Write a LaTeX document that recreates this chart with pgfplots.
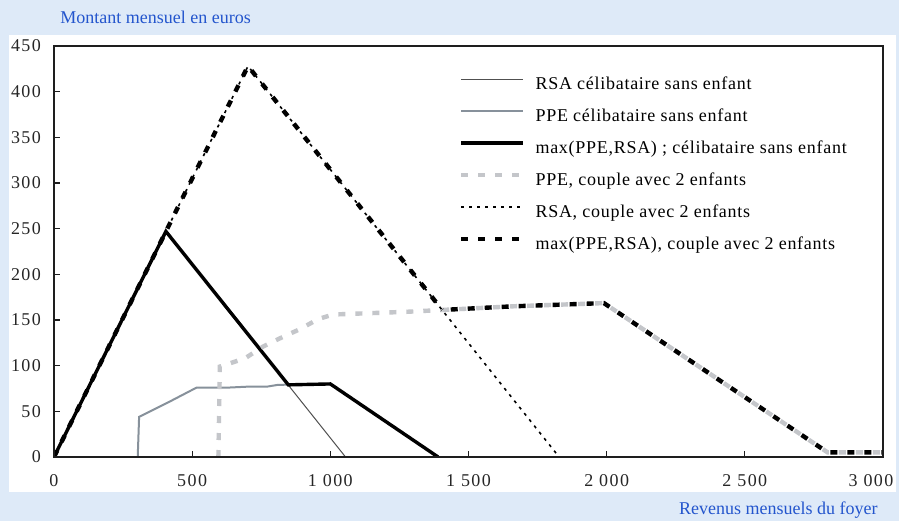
\documentclass[border=0pt]{standalone}
\usepackage{fontspec}
\setmainfont{Liberation Serif}
\newfontfamily\spacedfont[LetterSpace=4]{Liberation Serif}
\newfontfamily\tickfont[LetterSpace=8]{Liberation Serif}
\usepackage{pgfplots}
\pgfplotsset{compat=1.18}
\definecolor{bgblue}{RGB}{222,234,248}
\definecolor{titleblue}{RGB}{35,85,205}
\definecolor{rsagray}{RGB}{80,80,80}
\definecolor{ppegray}{RGB}{135,145,155}
\definecolor{ppelight}{RGB}{196,198,202}
\definecolor{axisblack}{RGB}{30,30,30}
\begin{document}
\begin{tikzpicture}
\fill[bgblue] (0,0) rectangle (449.5pt,260.5pt);
\fill[white] (4.5pt,14.5pt) rectangle (448pt,243pt);
\node[anchor=base west, text=titleblue, font=\fontsize{9}{10}\selectfont, inner sep=0pt] at (30pt,248.5pt) {Montant mensuel en euros};
\node[anchor=base east, text=titleblue, font=\fontsize{9}{10}\selectfont, inner sep=0pt] at (439pt,3.5pt) {Revenus mensuels du foyer};
\begin{axis}[
  at={(27pt,32pt)}, anchor=south west,
  scale only axis, width=414.5pt, height=205.5pt,
  xmin=0, xmax=3000, ymin=0, ymax=450,
  axis line style={axisblack, line width=0.9pt},
  tick align=inside, tick pos=left, major tick length=3pt,
  tick style={axisblack, line width=0.6pt},
  xtick={0,500,1000,1500,2000,2500,3000},
  xticklabels={0,500,1 000,1 500,2 000,2 500,\hspace*{-12pt}3 000},
  ytick={0,50,100,150,200,250,300,350,400,450},
  yticklabels={0,50,100,150,200,250,300,350,400,450},
  ticklabel style={font=\tickfont\fontsize{9}{10}\selectfont, text=black!85},
  xticklabel style={yshift=-5pt},
  yticklabel style={xshift=-3pt},
  axis on top,
  legend style={at={(0.481,0.94)}, anchor=north west, draw=none, fill=none,
    font=\spacedfont\fontsize{9}{10}\selectfont, row sep=7pt,
    nodes={inner sep=0pt, text height=7pt, text depth=2pt},
    /tikz/every odd column/.append style={column sep=5pt}},
  legend cell align=left,
  legend image code/.code={\draw[#1] (0pt,2.5pt) -- (31pt,2.5pt);},
]
% RSA celibataire
\addplot[rsagray, line width=0.5pt] coordinates {(0,0) (405,247) (1055,0)};
\addlegendentry{RSA célibataire sans enfant}
% PPE celibataire
\addplot[ppegray, line width=1pt] coordinates {(0,0) (303,0) (308,44) (408,59) (516,76) (630,76) (700,77) (770,77) (810,79) (1000,80) (1390,0)};
\addlegendentry{PPE célibataire sans enfant}
% max celibataire
\addplot[black, line width=1.7pt] coordinates {(0,0) (405,247) (848,79) (1000,80) (1390,0)};
\addlegendentry{max(PPE,RSA) ; célibataire sans enfant}
% PPE couple
\addplot[ppelight, line width=2.2pt, dash pattern=on 3.5pt off 5pt] coordinates {(595,0) (600,99) (691,108) (757,121) (818,130) (890,140) (956,151) (1010,156) (1277,159) (1405,161)};
\addlegendentry{PPE, couple avec 2 enfants}
\addplot[ppelight, line width=2.2pt, dash pattern=on 3.5pt off 5pt, forget plot] coordinates {(1405,161) (1662,165) (1990,168.5) (2800,5) (3000,5)};
% RSA couple
\addplot[black, line width=0.8pt, dash pattern=on 1.5pt off 2.5pt] coordinates {(0,0) (702,428) (1828,0)};
\addlegendentry{RSA, couple avec 2 enfants}
% max couple
\addplot[black, line width=2.2pt, dash pattern=on 3.5pt off 5pt] coordinates {(0,0) (702,428) (1405,161)};
\addlegendentry{max(PPE,RSA), couple avec 2 enfants}
\addplot[black, line width=2.2pt, dash pattern=on 3.5pt off 5pt, dash phase=4.25pt, forget plot] coordinates {(1405,161) (1662,165) (1990,168.5) (2800,5) (3000,5)};
\end{axis}
\pgfresetboundingbox
\useasboundingbox (0,0) rectangle (449.5pt,260.5pt);
\end{tikzpicture}
\end{document}
